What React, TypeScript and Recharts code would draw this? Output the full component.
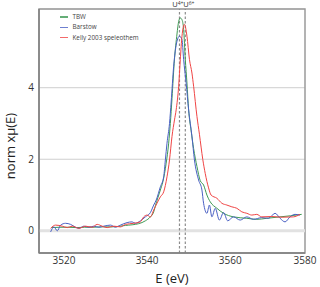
import {
  LineChart,
  Line,
  XAxis,
  YAxis,
  CartesianGrid,
  ReferenceLine,
  ReferenceArea,
  Legend,
} from "recharts";

// X-ray absorption spectra (E in eV, normalised xµ)
const tbwE = [3517, 3519, 3521, 3523, 3525, 3527, 3529, 3531.6, 3534.8, 3538, 3539.6, 3540.8, 3541.6, 3542, 3543.2, 3543.8, 3544.6, 3545.2, 3545.6, 3546, 3546.6, 3547.2, 3547.6, 3548, 3548.4, 3548.8, 3549.2, 3549.6, 3550, 3550.6, 3551.2, 3552, 3552.8, 3553.6, 3554.4, 3555.2, 3556.8, 3558.4, 3560.8, 3564, 3566.4, 3568.8, 3572, 3574.5, 3577.2];
const tbwMu = [0.09, 0.1, 0.1, 0.09, 0.1, 0.1, 0.11, 0.11, 0.15, 0.2, 0.28, 0.39, 0.53, 0.7, 1.14, 1.37, 1.89, 2.45, 3.0, 3.7, 4.8, 5.5, 5.85, 5.95, 5.9, 5.63, 4.79, 4.13, 3.38, 2.8, 2.3, 1.8, 1.4, 1.28, 1.0, 0.81, 0.63, 0.49, 0.39, 0.35, 0.32, 0.35, 0.39, 0.42, 0.46];

const barstowE = [3516.8, 3517.6, 3518.4, 3519.2, 3520.4, 3521.6, 3522.8, 3523.6, 3524.8, 3526, 3527.2, 3528.4, 3529.6, 3531.2, 3532.4, 3533.6, 3535.2, 3536.4, 3537.2, 3538.4, 3539.6, 3540.8, 3541.6, 3542.2, 3543.2, 3544, 3544.4, 3544.8, 3545.4, 3545.8, 3546.4, 3547.2, 3547.8, 3548.4, 3548.8, 3549.4, 3550, 3550.8, 3551.4, 3552.4, 3553.2, 3553.6, 3554.4, 3555, 3555.6, 3556.4, 3557.4, 3558.4, 3559.4, 3560.8, 3562.4, 3564, 3565.6, 3567.6, 3569.2, 3570.8, 3572, 3573.2, 3574.4, 3575.6, 3576.8];
const barstowMu = [-0.03, 0.11, 0.0, 0.16, 0.21, 0.18, 0.1, 0.07, 0.13, 0.1, 0.13, 0.1, 0.13, 0.16, 0.1, 0.16, 0.23, 0.25, 0.21, 0.28, 0.39, 0.51, 0.72, 0.86, 1.23, 1.51, 1.98, 2.45, 3.0, 3.6, 4.6, 5.3, 5.44, 5.35, 4.79, 4.13, 3.38, 2.64, 1.98, 1.42, 1.14, 0.77, 0.49, 0.72, 0.39, 0.63, 0.3, 0.51, 0.28, 0.39, 0.3, 0.39, 0.32, 0.37, 0.35, 0.49, 0.35, 0.25, 0.39, 0.46, 0.44];

const kellyE = [3516.8, 3518, 3519.6, 3520.8, 3522, 3523.6, 3525.2, 3526.8, 3528, 3529.2, 3530.4, 3532, 3533.6, 3534.8, 3536.8, 3538.4, 3539.2, 3540, 3540.8, 3541.6, 3543.2, 3544, 3544.8, 3545.4, 3546, 3546.6, 3547, 3547.6, 3548, 3548.4, 3549, 3549.6, 3550.2, 3550.8, 3551.2, 3552, 3552.6, 3553.4, 3554, 3554.8, 3555.4, 3556.8, 3558, 3559.2, 3560.4, 3561.6, 3562.8, 3564, 3565.2, 3566.4, 3567.6, 3570, 3572.5, 3575.2, 3576.8];
const kellyMu = [0.07, 0.16, 0.13, 0.09, 0.13, 0.07, 0.13, 0.1, 0.18, 0.13, 0.09, 0.13, 0.11, 0.18, 0.21, 0.25, 0.39, 0.44, 0.39, 0.58, 0.95, 1.09, 1.51, 1.98, 2.64, 3.1, 3.38, 4.04, 4.79, 5.44, 5.77, 5.44, 4.79, 4.41, 4.04, 3.2, 2.7, 2.0, 1.6, 1.2, 1.0, 0.91, 0.77, 0.72, 0.67, 0.63, 0.53, 0.49, 0.44, 0.46, 0.39, 0.4, 0.38, 0.39, 0.46];

const seriesNames = ["TBW", "Barstow", "Kelly 2003 speleothem"];
const seriesColors = ["#3f9a55", "#4a60c4", "#f04545"];

const oxidationStates = [
  { e: 3547.8, state: "4+", anchor: "end", dx: 4 },
  { e: 3549.2, state: "6+", anchor: "start", dx: -2 },
];

const xTicks = [3520, 3540, 3560, 3578];
const yTicks = [0, 2, 4];

const FONT = "'Open Sans', sans-serif";

const toPoints = (e: number[], mu: number[]) => e.map((x, i) => ({ e: x, mu: mu[i] }));

const series = [toPoints(tbwE, tbwMu), toPoints(barstowE, barstowMu), toPoints(kellyE, kellyMu)];

const StateLabel = (props: any) => {
  const { viewBox, state, anchor, dx } = props;
  if (!viewBox) return null;
  return (
    <text x={viewBox.x + dx} y={viewBox.y - 2} textAnchor={anchor} fontSize={7.5} fill="#333" fontFamily={FONT}>
      U
      <tspan fontSize={5} dy={-2.5}>
        {state}
      </tspan>
    </text>
  );
};

const YLabel = (props: any) => {
  const { viewBox } = props;
  if (!viewBox) return null;
  const x = viewBox.x + 10;
  const y = viewBox.y + viewBox.height / 2 + 15;
  return (
    <text x={x} y={y} transform={`rotate(-90, ${x}, ${y})`} textAnchor="middle" dominantBaseline="central" fontSize={13} fill="#222" fontFamily={FONT}>
      norm xμ(E)
    </text>
  );
};

// keep the legend in the original order instead of recharts' sorted payload
const renderLegend = () => (
  <div style={{ fontFamily: FONT, fontSize: 6.3, color: "#444", lineHeight: "10.3px" }}>
    {seriesNames.map((name, index) => (
      <div key={index} style={{ display: "flex", alignItems: "center", height: 10.3 }}>
        <span style={{ display: "inline-block", width: 8, height: 1.5, backgroundColor: seriesColors[index], opacity: 0.8, marginRight: 4.5 }}></span>
        <span>{name}</span>
      </div>
    ))}
  </div>
);

export default function App() {
  return (
    <div style={{ position: "absolute", left: 0, top: 0, background: "#fff" }}>
      <LineChart width={320} height={287} margin={{ top: 9, right: 15, bottom: 0, left: 0 }}>
        <CartesianGrid vertical={false} stroke="#cfcfcf" />
        <ReferenceArea x1={3514} x2={3578} y1={-0.62} y2={6.2} fill="none" stroke="#9a9a9a" strokeWidth={1.5} />
        <ReferenceLine y={0} stroke="#e2e2e2" strokeWidth={3} />
        <XAxis
          type="number"
          dataKey="e"
          domain={[3514, 3578]}
          ticks={xTicks}
          tickFormatter={(v: number) => String(Math.round(v / 20) * 20)}
          allowDataOverflow
          height={34}
          tickLine={false}
          tickSize={0}
          tickMargin={4}
          axisLine={{ stroke: "#7f7f7f", strokeWidth: 1.5 }}
          tick={{ fontSize: 10, fill: "#333", fontFamily: FONT }}
          label={{ value: "E (eV)", position: "insideBottom", offset: 4, fontSize: 13, fill: "#222", fontFamily: FONT }}
        />
        <YAxis
          type="number"
          domain={[-0.62, 6.2]}
          ticks={yTicks}
          allowDataOverflow
          width={39}
          tickLine={false}
          tickSize={0}
          tickMargin={5}
          axisLine={{ stroke: "#7f7f7f", strokeWidth: 1.5 }}
          tick={{ fontSize: 10, fill: "#333", fontFamily: FONT }}
          label={<YLabel />}
        />
        {oxidationStates.map((s) => (
          <ReferenceLine
            key={s.state}
            x={s.e}
            stroke="#8c8c8c"
            strokeWidth={1.2}
            strokeDasharray="2.5 2"
            label={<StateLabel state={s.state} anchor={s.anchor} dx={s.dx} />}
          />
        ))}
        <Legend
          content={renderLegend}
          layout="vertical"
          align="center"
          verticalAlign="middle"
          wrapperStyle={{ top: 12, left: 60, width: "auto" }}
        />
        {series.map((data, i) => (
          <Line
            key={seriesNames[i]}
            data={data}
            dataKey="mu"
            name={seriesNames[i]}
            type="monotone"
            stroke={seriesColors[i]}
            strokeWidth={1}
            dot={false}
            isAnimationActive={false}
          />
        ))}
      </LineChart>
    </div>
  );
}
